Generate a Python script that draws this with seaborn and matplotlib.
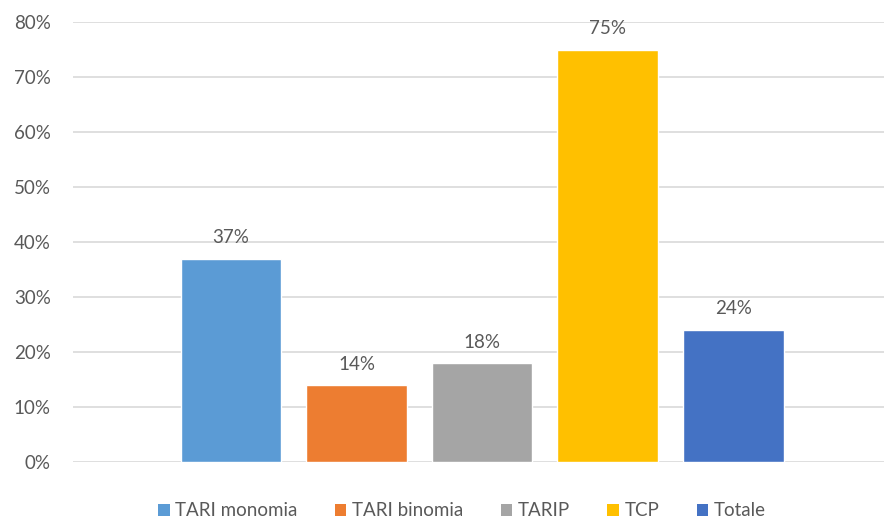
import matplotlib
matplotlib.use("Agg")
import matplotlib.pyplot as plt
from matplotlib.patches import Patch
from matplotlib.ticker import PercentFormatter
import seaborn as sns
import pandas as pd

# values
categories = ["TARI monomia", "TARI binomia", "TARIP", "TCP", "Totale"]
values = [0.37, 0.14, 0.18, 0.75, 0.24]
colors = ["#5B9BD5", "#ED7D31", "#A5A5A5", "#FFC000", "#4472C4"]
yticks = [0, 0.1, 0.2, 0.3, 0.4, 0.5, 0.6, 0.7, 0.8]

sns.set_theme(style="white")
plt.rcParams['font.family'] = ['Lato', 'DejaVu Sans']
text_color = "#595959"

df = pd.DataFrame({'Categoria': categories, 'Valore': values})

fig = plt.figure(figsize=(8.84, 5.21), dpi=100)
ax = fig.add_axes([73/884, 59/521, 1 - 73/884, 440/521])

sns.barplot(data=df, x='Categoria', y='Valore', hue='Categoria',
            palette=colors, width=0.8, dodge=False, legend=False,
            saturation=1, ax=ax, zorder=3)

for cont in ax.containers:
    ax.bar_label(cont, labels=[f"{v*100:.0f}%" for v in cont.datavalues],
                 padding=9, fontsize=13.5, color=text_color)

ax.set_xlim(-1.258, 5.2)
ax.set_ylim(0, 0.8)
ax.set_yticks(yticks)
ax.yaxis.set_major_formatter(PercentFormatter(1.0, decimals=0))
ax.set_xticks([])
ax.set_xlabel('')
ax.set_ylabel('')
ax.grid(axis='y', color='#D9D9D9', linewidth=1.2, zorder=0)
ax.tick_params(axis='y', length=0, pad=16, labelsize=13.5, labelcolor=text_color)
for s in ax.spines.values():
    s.set_visible(False)

handles = [Patch(facecolor=c, edgecolor='none', label=l) for c, l in zip(colors, categories)]
fig.legend(handles=handles, loc='center', bbox_to_anchor=(462/884, 1 - 511/521),
           ncol=5, frameon=False, fontsize=13.5, labelcolor=text_color,
           handlelength=0.6, handleheight=0.6, handletextpad=0.3,
           columnspacing=2.0)

fig.savefig('out.png', dpi=100)
